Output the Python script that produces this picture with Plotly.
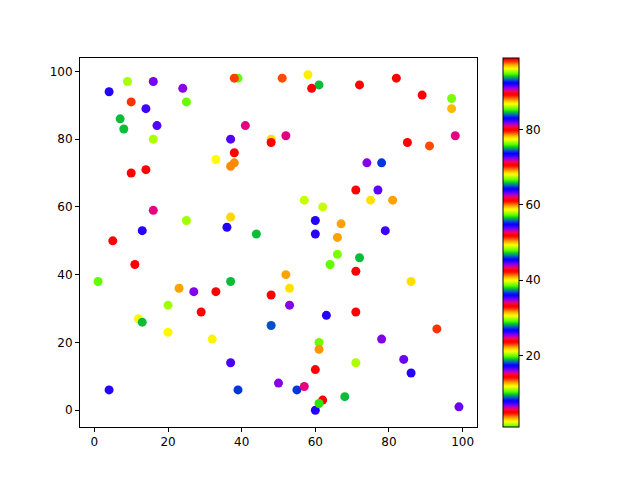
import numpy as np
import plotly.graph_objects as go

# point positions
x_vals = [4, 9, 16, 24, 10, 14, 25, 7, 8, 17,
          16, 37, 41, 38, 33, 38, 37, 10, 14, 39,
          38, 48, 48, 16, 5, 13, 25, 37, 36, 44,
          51, 58, 61, 59, 72, 82, 89, 97, 97, 52,
          98, 85, 91, 74, 78, 71, 77, 57, 62, 75,
          81, 60, 60, 67, 66, 79, 11, 1, 23, 27,
          33, 37, 48, 20, 29, 12, 13, 20, 32, 48,
          37, 4, 39, 50, 66, 72, 64, 71, 52, 53,
          86, 53, 63, 71, 93, 78, 61, 61, 71, 84,
          86, 60, 55, 57, 60, 62, 61, 68, 99]
y_vals = [94, 97, 97, 95, 91, 89, 91, 86, 83, 84,
          80, 80, 84, 76, 74, 73, 72, 70, 71, 98,
          98, 80, 79, 59, 50, 53, 56, 57, 54, 52,
          98, 99, 96, 95, 96, 98, 93, 92, 89, 81,
          81, 79, 78, 73, 73, 65, 65, 62, 60, 62,
          62, 56, 52, 55, 51, 53, 43, 38, 36, 35,
          35, 38, 34, 31, 29, 27, 26, 23, 21, 25,
          14, 6, 6, 8, 46, 45, 43, 41, 40, 36,
          38, 31, 28, 29, 24, 21, 20, 18, 14, 15,
          11, 12, 6, 7, 0, 3, 2, 4, 1]
# colour values (estimated from the colours in the picture)
c_vals = [91.97, 86.10, 72.44, 62.90, 60.59, 44.81, 38.65, 28.35, 18.98, 7.10,
          95.48, 82.12, 71.57, 70.67, 58.68, 50.51, 41.13, 33.15, 23.78, 94.92,
          13.60, 87.22, 80.04, 62.20, 61.29, 45.08, 39.13, 31.05, 16.95, 9.60,
          97.90, 87.02, 75.24, 70.67, 61.29, 51.91, 42.53, 29.45, 21.98, 5.93,
          90.33, 89.42, 79.14, 62.97, 55.39, 51.91, 35.13, 30.05, 20.68, 12.20,
          97.20, 82.59, 73.21, 69.07, 59.69, 44.81, 42.53, 29.25, 22.18, 6.70,
          98.80, 84.62, 80.04, 67.27, 61.29, 49.41, 37.73, 30.65, 21.28, 8.70,
          91.60, 82.59, 74.14, 62.97, 57.59, 47.11, 38.63, 33.15, 22.18, 12.20,
          96.60, 81.72, 73.21, 70.67, 60.59, 44.21, 38.73, 31.65, 20.48, 6.90,
          91.97, 89.42, 74.14, 62.20, 35.70, 61.29, 47.51, 28.35, 16.28]
c_min, c_max = 1, 99
axis_ticks = [0, 20, 40, 60, 80, 100]
cbar_ticks = [20, 40, 60, 80]

# matplotlib "prism_r" colormap as a plotly colorscale
def prism_r(v):
    t = (1.0 - v) * 20.9
    r = 0.75 * np.sin((t + 0.25) * np.pi) + 0.67
    g = 0.75 * np.sin((t - 0.25) * np.pi) + 0.33
    b = -1.1 * np.sin(t * np.pi)
    return [min(max(u, 0.0), 1.0) for u in (r, g, b)]

n = 256
colorscale = []
for i in range(n):
    r, g, b = prism_r(i / (n - 1))
    colorscale.append([i / (n - 1), "rgb(%d,%d,%d)" % (round(r * 255), round(g * 255), round(b * 255))])

fig = go.Figure(go.Scatter(
    x=x_vals, y=y_vals, mode="markers",
    marker=dict(size=9, color=c_vals, colorscale=colorscale, cmin=c_min, cmax=c_max,
                line=dict(width=0),
                colorbar=dict(x=1.0655, xanchor="left", xref="paper", y=0.5, yanchor="middle",
                              len=1, lenmode="fraction", thickness=16, xpad=0, ypad=0,
                              outlinewidth=1, outlinecolor="black",
                              tickvals=cbar_ticks, ticks="outside", ticklen=4, tickwidth=1,
                              tickcolor="black", tickfont=dict(size=12, color="black"))),
    showlegend=False, hoverinfo="skip"))

axis_common = dict(showline=True, mirror=True, linecolor="black", linewidth=1,
                   ticks="outside", ticklen=4, tickwidth=1, tickcolor="black",
                   showgrid=False, zeroline=False, tickvals=axis_ticks,
                   tickfont=dict(size=12, color="black"))
fig.update_xaxes(range=[-3.9, 103.9], **axis_common)
fig.update_yaxes(range=[-4.95, 103.95], **axis_common)
fig.update_layout(width=640, height=480, margin=dict(l=72, r=171, t=50, b=61, autoexpand=False),
                  paper_bgcolor="white", plot_bgcolor="white",
                  font=dict(family="DejaVu Sans", size=12, color="black"))
fig.write_html("out.html")
